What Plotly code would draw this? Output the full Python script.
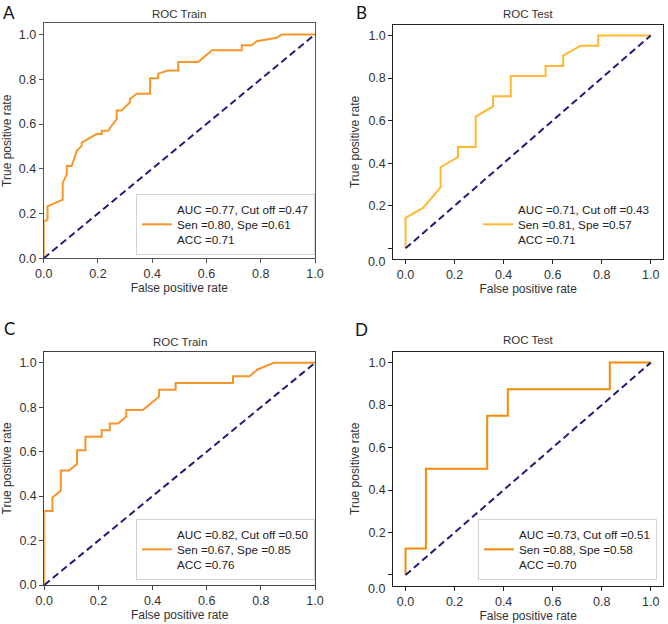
import plotly.graph_objects as go

W, H = 668, 624

# ---------------- data ----------------
a_fpr = [0, 0, 0.014, 0.014, 0.07, 0.07, 0.085, 0.085, 0.103, 0.122, 0.14, 0.14, 0.195, 0.214, 0.214, 0.238,
         0.25, 0.269, 0.269, 0.287, 0.318, 0.318, 0.343, 0.392, 0.392, 0.422, 0.422, 0.459, 0.496, 0.496,
         0.57, 0.62, 0.73, 0.73, 0.767, 0.785, 0.859, 0.877, 1.0]
a_tpr = [0, 0.165, 0.172, 0.232, 0.262, 0.337, 0.375, 0.412, 0.412, 0.48, 0.502, 0.517, 0.555, 0.555, 0.57,
         0.57, 0.592, 0.622, 0.66, 0.66, 0.697, 0.712, 0.735, 0.735, 0.805, 0.805, 0.825, 0.839, 0.839, 0.877,
         0.877, 0.93, 0.93, 0.952, 0.952, 0.97, 0.985, 1.0, 1.0]

b_fpr = [0, 0, 0.071, 0.143, 0.143, 0.214, 0.214, 0.286, 0.286, 0.357, 0.357, 0.429, 0.429, 0.571, 0.571,
         0.643, 0.643, 0.714, 0.786, 0.786, 1.0]
b_tpr = [0, 0.143, 0.19, 0.286, 0.381, 0.429, 0.476, 0.476, 0.619, 0.667, 0.714, 0.714, 0.81, 0.81, 0.857,
         0.857, 0.905, 0.952, 0.952, 1.0, 1.0]

c_fpr = [0, 0, 0.03, 0.03, 0.061, 0.061, 0.091, 0.121, 0.121, 0.152, 0.152, 0.212, 0.212, 0.242, 0.242,
         0.273, 0.303, 0.303, 0.364, 0.424, 0.424, 0.485, 0.485, 0.697, 0.697, 0.758, 0.788, 0.848, 1.0]
c_tpr = [0, 0.333, 0.333, 0.394, 0.424, 0.515, 0.515, 0.545, 0.606, 0.606, 0.667, 0.667, 0.697, 0.697, 0.727,
         0.727, 0.758, 0.788, 0.788, 0.848, 0.879, 0.879, 0.909, 0.909, 0.939, 0.939, 0.97, 1.0, 1.0]

d_fpr = [0, 0, 0.083, 0.083, 0.333, 0.333, 0.417, 0.417, 0.833, 0.833, 1.0]
d_tpr = [0, 0.125, 0.125, 0.5, 0.5, 0.75, 0.75, 0.875, 0.875, 1.0, 1.0]

diag = [0, 1]

panel_letters = ["A", "B", "C", "D"]
panel_titles = ["ROC Train", "ROC Test", "ROC Train", "ROC Test"]
legend_texts = [
    "AUC =0.77, Cut off =0.47<br>Sen =0.80, Spe =0.61<br>ACC =0.71",
    "AUC =0.71, Cut off =0.43<br>Sen =0.81, Spe =0.57<br>ACC =0.71",
    "AUC =0.82, Cut off =0.50<br>Sen =0.67, Spe =0.85<br>ACC =0.76",
    "AUC =0.73, Cut off =0.51<br>Sen =0.88, Spe =0.58<br>ACC =0.70",
]
tick_vals = [0, 0.2, 0.4, 0.6, 0.8, 1.0]
tick_text = ["0.0", "0.2", "0.4", "0.6", "0.8", "1.0"]

# ---------------- layout helpers ----------------
FONT = "Liberation Sans, Arial, sans-serif"
NAVY = "#1d1d7a"
TXT = "#333333"


def px_x(v):
    return v / W


def px_y(v):
    return 1 - v / H


panels = [
    dict(fpr=a_fpr, tpr=a_tpr, color="#f7972a", box=(43.7, 23.3, 315, 258.3), xr=[0, 1], yr=[0, 1.05],
         spine="#555555", leg=dict(x=315, y=255, xanchor="right", frame=True), odd=False),
    dict(fpr=b_fpr, tpr=b_tpr, color="#ffb730", box=(393.3, 24.8, 663, 259), xr=[-0.05, 1.05], yr=[-0.05, 1.05],
         spine="#222222", leg=dict(x=478, y=254, xanchor="left", frame=False), odd=True),
    dict(fpr=c_fpr, tpr=c_tpr, color="#f7952a", box=(44.3, 351.7, 315, 585), xr=[0, 1], yr=[0, 1.05],
         spine="#444444", leg=dict(x=315, y=580, xanchor="right", frame=True), odd=False),
    dict(fpr=d_fpr, tpr=d_tpr, color="#f58a07", box=(393.3, 352, 663, 585.6), xr=[-0.05, 1.05], yr=[-0.05, 1.05],
         spine="#222222", leg=dict(x=657, y=580, xanchor="right", frame=True), odd=True),
]

letter_pos = [(9, 0), (361, 0), (9, 316), (361, 317)]
title_y = [14, 14, 341.5, 340]

fig = go.Figure()
annotations = []
layout = dict(
    width=W, height=H, margin=dict(l=0, r=0, t=0, b=0, autoexpand=False),
    paper_bgcolor="white", plot_bgcolor="white",
    font=dict(family=FONT, size=12, color=TXT),
    showlegend=True,
)

for i, p in enumerate(panels):
    n = i + 1
    xa = "x" if n == 1 else f"x{n}"
    ya = "y" if n == 1 else f"y{n}"
    legname = "legend" if n == 1 else f"legend{n}"
    l, t, r, b = p["box"]

    fig.add_trace(go.Scatter(
        x=p["fpr"], y=p["tpr"], mode="lines", xaxis=xa, yaxis=ya,
        line=dict(color=p["color"], width=2), name=legend_texts[i], legend=legname,
        showlegend=True,
    ))
    fig.add_trace(go.Scatter(
        x=diag, y=diag, mode="lines", xaxis=xa, yaxis=ya,
        line=dict(color=NAVY, width=2, dash="7px,4px"), showlegend=False,
    ))

    axis_common = dict(
        showline=True, mirror=True, linewidth=1, linecolor=p["spine"],
        ticks="outside", ticklen=4, tickwidth=1, tickcolor=p["spine"],
        showgrid=False, zeroline=False, tickfont=dict(size=12.5, color=TXT),
        fixedrange=True, automargin=False,
    )
    xkey = "xaxis" if n == 1 else f"xaxis{n}"
    ykey = "yaxis" if n == 1 else f"yaxis{n}"
    layout[xkey] = dict(
        axis_common, domain=[px_x(l), px_x(r)], range=p["xr"], anchor=ya,
        tickvals=tick_vals, ticktext=tick_text,
        title=dict(text="False positive rate", font=dict(size=12, color=TXT), standoff=2),
    )
    ytt = [""] + tick_text[1:] if p["odd"] else tick_text
    layout[ykey] = dict(
        axis_common, domain=[px_y(b), px_y(t)], range=p["yr"], anchor=xa,
        tickvals=tick_vals, ticktext=ytt,
        title=dict(text="True positive rate", font=dict(size=12, color=TXT), standoff=6),
    )
    if p["odd"]:
        annotations.append(dict(
            text="0.0", x=px_x(l - 6), y=-0.05, xref="paper", yref=ya, xanchor="right", yanchor="middle",
            yshift=-3, showarrow=False, font=dict(size=12.5, color=TXT),
        ))

    lg = p["leg"]
    layout[legname] = dict(
        x=px_x(lg["x"]), y=px_y(lg["y"]), xanchor=lg["xanchor"], yanchor="bottom",
        xref="paper", yref="paper",
        bgcolor="rgba(255,255,255,0.9)" if lg["frame"] else "rgba(0,0,0,0)",
        bordercolor="#d4d4d4", borderwidth=1 if lg["frame"] else 0,
        font=dict(size=11.7, family=FONT, color="#222222"), itemwidth=30, valign="middle",
        tracegroupgap=0,
    )

    # title
    annotations.append(dict(
        text=panel_titles[i], x=px_x((l + r) / 2), y=px_y(title_y[i]), xref="paper", yref="paper",
        xanchor="center", yanchor="middle", showarrow=False, font=dict(size=11.5, color=TXT),
    ))
    # letter
    lx, ly = letter_pos[i]
    annotations.append(dict(
        text=panel_letters[i], x=px_x(lx), y=px_y(ly), xref="paper", yref="paper",
        xanchor="center", yanchor="top", showarrow=False,
        font=dict(size=17, family="Lato, Liberation Sans, sans-serif", color="#111111"),
    ))

layout["annotations"] = annotations
fig.update_layout(**layout)
fig.write_html(
    "out.html",
    config={"displayModeBar": False},
    post_script="document.body.style.margin='0px';document.body.style.padding='0px';",
)
